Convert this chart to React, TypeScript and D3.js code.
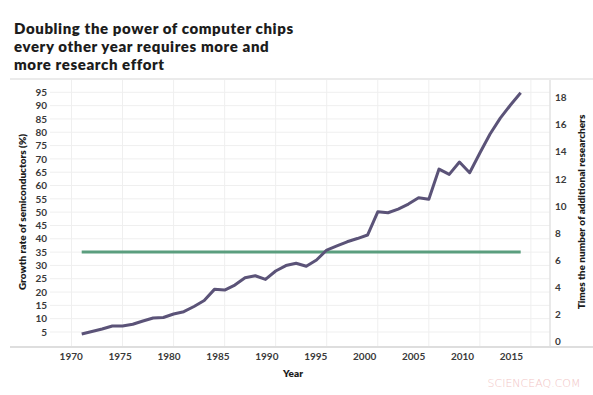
import React, { useEffect, useRef } from 'react';
import * as d3 from 'd3';

// research effort, times the number of researchers (right axis), 1971..2014
const years = d3.range(1971, 2015);
const researchers = [
  0.52, 0.7, 0.89, 1.11, 1.11, 1.24, 1.48, 1.7, 1.74, 2.0,
  2.17, 2.55, 3.0, 3.82, 3.77, 4.14, 4.68, 4.83, 4.56, 5.18,
  5.58, 5.75, 5.53, 5.99, 6.73, 7.03, 7.34, 7.58, 7.84, 9.56,
  9.49, 9.76, 10.13, 10.6, 10.48, 12.72, 12.33, 13.24, 12.45, 13.91,
  15.31, 16.49, 17.46, 18.37,
];
// constant growth rate of semiconductors (%)
const growthRate = years.map(() => 35);

const leftTicks = d3.range(5, 100, 5);
const rightTicks = d3.range(0, 20, 2);
const yearTicks = d3.range(1970, 2020, 5);

const titleLines = [
  'Doubling the power of computer chips',
  'every other year requires more and',
  'more research effort',
];

const FONT = 'Lato, "DejaVu Sans", sans-serif';

function App() {
  const ref = useRef<SVGSVGElement>(null);

  useEffect(() => {
    const svg = d3.select(ref.current);
    svg.selectAll('*').remove();

    const yLeft = d3.scaleLinear().domain([0, 100]).range([345.3, 79]);
    const yRight = d3.scaleLinear().domain([0, 18]).range([341, 97.7]);
    const xData = d3.scaleLinear().domain([1971, 2014]).range([81.7, 520.7]);
    const xLabel = d3.scaleLinear().domain([1970, 2015]).range([70.7, 510.9]);

    // title
    svg.append('g')
      .selectAll('text')
      .data(titleLines)
      .enter()
      .append('text')
      .attr('x', 14)
      .attr('y', (d, i) => 34 + i * 18)
      .attr('font-family', FONT)
      .attr('font-weight', 800)
      .attr('font-size', 15)
      .attr('letter-spacing', 0.6)
      .attr('fill', '#1c1c1c')
      .text(d => d);

    // frame lines
    svg.append('line')
      .attr('x1', 10).attr('x2', 593).attr('y1', 79).attr('y2', 79)
      .attr('stroke', '#e4e4e4').attr('stroke-width', 1.5);

    // grid
    const grid = svg.append('g').attr('stroke', '#efefef').attr('stroke-width', 1);
    grid.selectAll('line.h')
      .data(leftTicks)
      .enter()
      .append('line')
      .attr('class', 'h')
      .attr('x1', 50).attr('x2', 550)
      .attr('y1', d => yLeft(d)).attr('y2', d => yLeft(d));
    grid.selectAll('line.v')
      .data(yearTicks.filter(d => xData(d) < 550))
      .enter()
      .append('line')
      .attr('class', 'v')
      .attr('x1', d => xData(d)).attr('x2', d => xData(d))
      .attr('y1', 80).attr('y2', 347);

    svg.append('line')
      .attr('x1', 550).attr('x2', 550).attr('y1', 80).attr('y2', 347)
      .attr('stroke', '#e2e2e2').attr('stroke-width', 1.5);
    svg.append('line')
      .attr('x1', 10).attr('x2', 593).attr('y1', 347).attr('y2', 347)
      .attr('stroke', '#dedede').attr('stroke-width', 2);

    // axes
    const styleAxis = (g: d3.Selection<SVGGElement, unknown, null, undefined>) => {
      g.select('.domain').remove();
      g.selectAll('line').remove();
      g.selectAll('text')
        .attr('font-family', FONT)
        .attr('font-weight', 700)
        .attr('font-size', 10)
        .attr('fill', '#3a3a3a');
    };

    svg.append('g')
      .attr('transform', 'translate(50,0)')
      .call(d3.axisLeft(yLeft).tickValues(leftTicks).tickSize(0).tickPadding(3))
      .call(styleAxis);

    svg.append('g')
      .attr('transform', 'translate(550,0)')
      .call(d3.axisRight(yRight).tickValues(rightTicks).tickSize(0).tickPadding(5))
      .call(styleAxis);

    svg.append('g')
      .attr('transform', 'translate(0,350)')
      .call(d3.axisBottom(xLabel).tickValues(yearTicks).tickFormat(d3.format('d')).tickSize(0).tickPadding(3))
      .call(styleAxis);

    // axis titles
    const axisTitle = (x: number, y: number, rot: number, text: string) =>
      svg.append('text')
        .attr('transform', `translate(${x},${y}) rotate(${rot})`)
        .attr('text-anchor', 'middle')
        .attr('dominant-baseline', 'central')
        .attr('font-family', FONT)
        .attr('font-weight', 800)
        .attr('font-size', 10)
        .attr('fill', '#1c1c1c')
        .text(text);

    axisTitle(22, 212, -90, 'Growth rate of semiconductors (%)');
    axisTitle(581, 212, -90, 'Times the number of additional researchers');
    axisTitle(293, 373, 0, 'Year');

    // series
    const green = d3.line<number>()
      .x((d, i) => xData(years[i]))
      .y(d => yLeft(d));
    svg.append('path')
      .datum(growthRate)
      .attr('d', green)
      .attr('fill', 'none')
      .attr('stroke', '#5b9e7e')
      .attr('stroke-width', 3);

    const purple = d3.line<number>()
      .x((d, i) => xData(years[i]))
      .y(d => yRight(d));
    svg.append('path')
      .datum(researchers)
      .attr('d', purple)
      .attr('fill', 'none')
      .attr('stroke', '#5b5378')
      .attr('stroke-width', 3)
      .attr('stroke-linejoin', 'round');

    // watermark
    svg.append('text')
      .attr('x', 534)
      .attr('y', 387)
      .attr('text-anchor', 'middle')
      .attr('font-family', '"DejaVu Sans", sans-serif')
      .attr('font-weight', 300)
      .attr('font-size', 11)
      .attr('fill', '#f2c6c6')
      .text('SCIENCEAQ.COM');
  }, []);

  return (
    <svg
      ref={ref}
      width={593}
      height={395}
      style={{ position: 'absolute', left: 0, top: 0, background: '#fff' }}
    />
  );
}

export default App;
